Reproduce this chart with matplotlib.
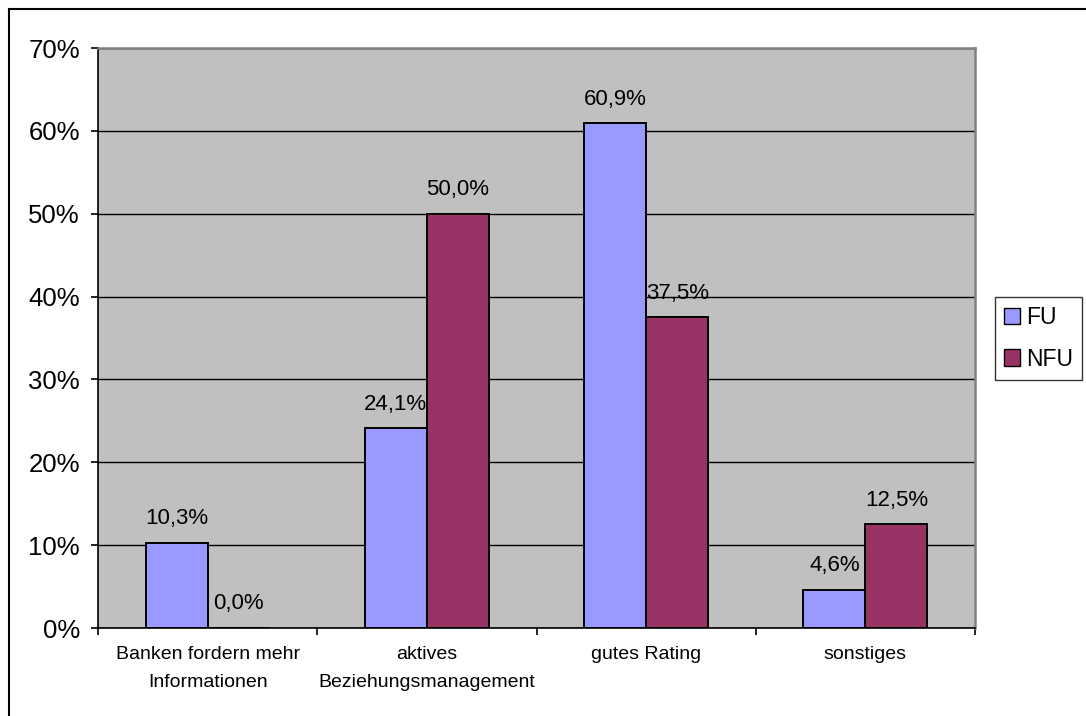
import matplotlib.pyplot as plt
from matplotlib.lines import Line2D
from matplotlib.ticker import FuncFormatter

plt.rcParams['font.family'] = ['Liberation Sans', 'DejaVu Sans']

# Gründe / Anteile je Gruppe
kategorien = ["Banken fordern mehr\nInformationen", "aktives\nBeziehungsmanagement",
              "gutes Rating", "sonstiges"]
fu = [10.3, 24.1, 60.9, 4.6]
nfu = [0.0, 50.0, 37.5, 12.5]
serien = ["FU", "NFU"]
farben = ["#9999FF", "#993366"]

fig = plt.figure(figsize=(10.86, 7.16), dpi=100)
ax = fig.add_axes([98 / 1086, 88 / 716, 877 / 1086, 580 / 716])
ax.set_facecolor("#C0C0C0")

breite = 0.283
x = list(range(len(kategorien)))
balken = []
for j, (werte, farbe) in enumerate(zip([fu, nfu], farben)):
    versatz = (j - 0.5) * breite
    b = ax.bar([i + versatz for i in x], werte, width=breite, color=farbe,
               edgecolor="black", linewidth=1.4, zorder=3, label=serien[j])
    balken.append(b)
    for i, w in enumerate(werte):
        ax.annotate(("%.1f%%" % w).replace(".", ","), (i + versatz, w),
                    xytext=(0, 13.5), textcoords="offset points",
                    ha="center", va="baseline", fontsize=16)

ax.set_xlim(-0.5, len(kategorien) - 0.5)
ax.set_ylim(0, 70)
ax.set_yticks(range(0, 71, 10))
ax.yaxis.set_major_formatter(FuncFormatter(lambda v, p: "%d%%" % v))
ax.yaxis.grid(True, color="black", linewidth=1.0, zorder=1)
ax.set_axisbelow(True)
ax.tick_params(axis="y", length=5, width=1.2, pad=8, labelsize=18.5)

ax.set_xticks(x)
ax.set_xticklabels(kategorien, fontsize=14, linespacing=1.85)
ax.set_xticks([i - 0.5 for i in range(len(kategorien) + 1)], minor=True)
ax.tick_params(axis="x", which="major", length=0, pad=13)
ax.tick_params(axis="x", which="minor", length=5, width=1.2, direction="out")

for s in ["top", "right"]:
    ax.spines[s].set_color("#808080")
    ax.spines[s].set_linewidth(1.8)
for s in ["left", "bottom"]:
    ax.spines[s].set_color("black")
    ax.spines[s].set_linewidth(1.2)

leg = fig.legend(handles=balken, loc="upper left",
                 bbox_to_anchor=(995 / 1086, 1 - 297 / 716), fontsize=16.5,
                 frameon=True, fancybox=False, handlelength=0.7, handleheight=0.7,
                 handletextpad=0.25, borderpad=0.4, labelspacing=0.8,
                 borderaxespad=0)
leg.get_frame().set_edgecolor("black")
leg.get_frame().set_linewidth(1.0)
for h in leg.legend_handles:
    h.set_linewidth(1.0)

# Rahmen oben und links
fig.add_artist(Line2D([9 / 1086, 1], [1 - 9 / 716, 1 - 9 / 716], color="black", linewidth=1.5))
fig.add_artist(Line2D([9 / 1086, 9 / 1086], [0, 1 - 9 / 716], color="black", linewidth=1.5))

fig.savefig("out.png", dpi=100)
